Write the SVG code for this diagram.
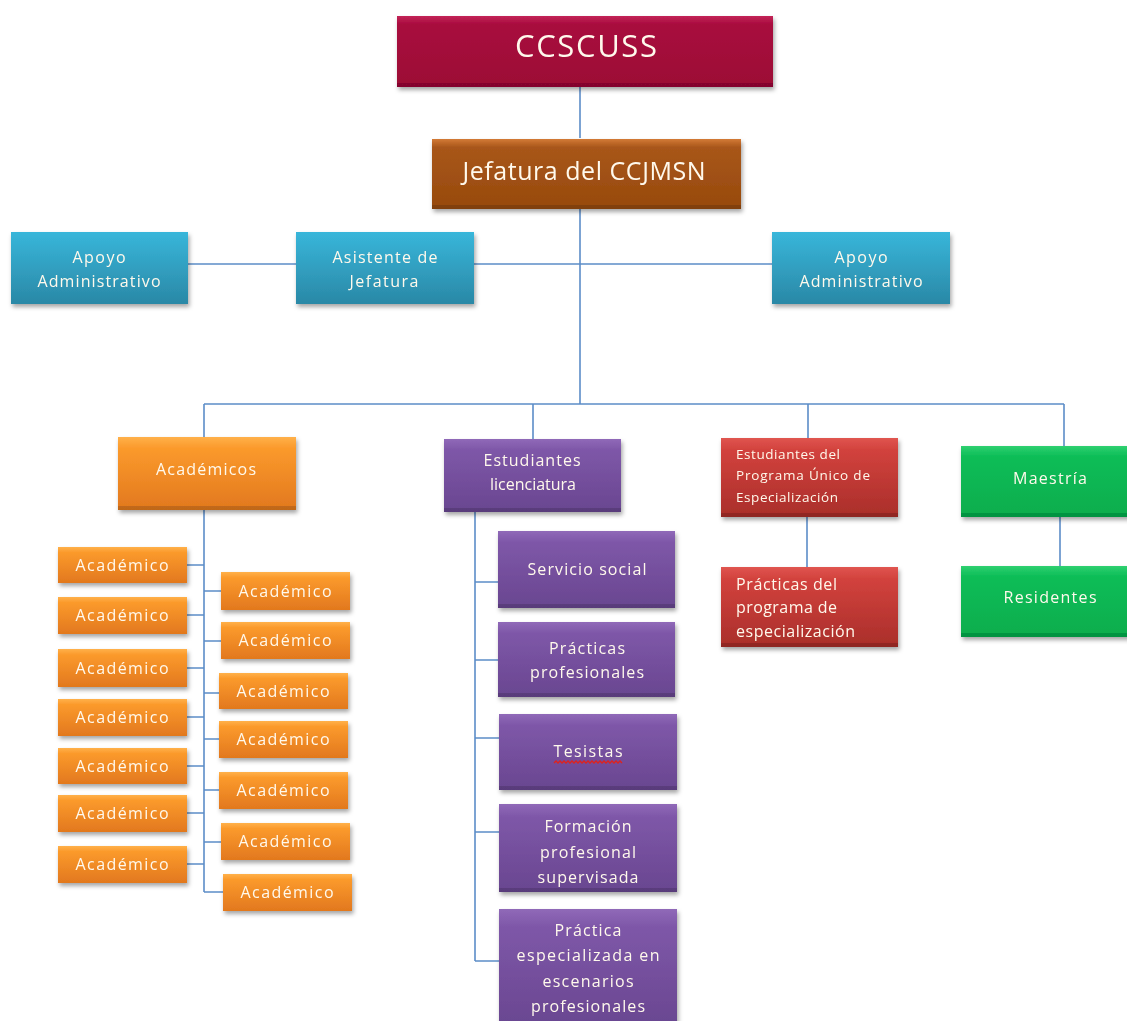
<svg xmlns="http://www.w3.org/2000/svg" width="1127" height="1021" viewBox="0 0 1127 1021">
<defs>
<linearGradient id="gCrim" x1="0" y1="0" x2="0" y2="1"><stop offset="0" stop-color="#C32458"/><stop offset="0.12" stop-color="#A80B3E"/><stop offset="1" stop-color="#9C0835"/></linearGradient>
<linearGradient id="gBrown" x1="0" y1="0" x2="0" y2="1"><stop offset="0" stop-color="#D37A35"/><stop offset="0.12" stop-color="#A8561A"/><stop offset="1" stop-color="#974A0C"/></linearGradient>
<linearGradient id="gBlue" x1="0" y1="0" x2="0" y2="1"><stop offset="0" stop-color="#38B6DA"/><stop offset="1" stop-color="#2A88A6"/></linearGradient>
<linearGradient id="gOrange" x1="0" y1="0" x2="0" y2="1"><stop offset="0" stop-color="#FFB14A"/><stop offset="0.15" stop-color="#FB9A2C"/><stop offset="1" stop-color="#E2781E"/></linearGradient>
<linearGradient id="gPurple" x1="0" y1="0" x2="0" y2="1"><stop offset="0" stop-color="#9069B8"/><stop offset="0.15" stop-color="#7E57A8"/><stop offset="1" stop-color="#694690"/></linearGradient>
<linearGradient id="gRed" x1="0" y1="0" x2="0" y2="1"><stop offset="0" stop-color="#E05550"/><stop offset="0.15" stop-color="#D2423D"/><stop offset="1" stop-color="#A92E2A"/></linearGradient>
<linearGradient id="gGreen" x1="0" y1="0" x2="0" y2="1"><stop offset="0" stop-color="#2FD070"/><stop offset="0.15" stop-color="#0BBD57"/><stop offset="1" stop-color="#07AD4D"/></linearGradient>
<filter id="sh" x="-10%" y="-10%" width="125%" height="135%"><feDropShadow dx="1.5" dy="3" stdDeviation="2" flood-color="#000" flood-opacity="0.35"/></filter>
</defs>
<style>
.conn{fill:none;stroke:#5C8DC8;stroke-width:1.6}
.box{filter:url(#sh)}
.dk{fill:#000;opacity:0.15}
text{font-family:"Open Sans","DejaVu Sans",sans-serif;fill:#FFF9EC;font-weight:500}
.c{text-anchor:middle}
.t15{font-size:16px}
.t13{font-size:13.5px}
</style>
<rect width="1127" height="1021" fill="#fff"/>
<g id="connectors">
<path class="conn" d="M580 87V138M580 209V404M188 264H296M474 264H772M204 404H1064M204 404V437M533 404V439M808 404V438M1064 404V446"/>
<path class="conn" d="M204 510V892M187 565H204M187 615H204M187 668H204M187 717H204M187 766H204M187 813H204M187 864H204M204 591H221M204 641H221M204 693H219M204 739H219M204 790H219M204 842H221M204 892H223"/>
<path class="conn" d="M475 512V961M475 582H498M475 660H498M475 738H499M475 832H499M475 961H499"/>
<path class="conn" d="M807 517V567M1060 517V566"/>
</g>
<g id="n-ccscuss" class="box"><rect x="397" y="16" width="376" height="71" fill="url(#gCrim)"/><rect class="dk" x="397" y="83" width="376" height="4"/><text class="c" x="586" y="57" font-size="31" textLength="142" lengthAdjust="spacing">CCSCUSS</text></g>
<g id="n-jefatura" class="box"><rect x="432" y="139" width="309" height="70" fill="url(#gBrown)"/><rect class="dk" x="432" y="205" width="309" height="4"/><text class="c" x="584" y="180" font-size="25" textLength="243" lengthAdjust="spacing">Jefatura del CCJMSN</text></g>
<g id="n-apoyo1" class="box"><rect x="11" y="232" width="177" height="72" fill="url(#gBlue)"/><text class="c t15" x="99" y="263" textLength="53" lengthAdjust="spacing">Apoyo</text><text class="c t15" x="99" y="287" textLength="123" lengthAdjust="spacing">Administrativo</text></g>
<g id="n-asistente" class="box"><rect x="296" y="232" width="178" height="72" fill="url(#gBlue)"/><text class="c t15" x="385" y="263" textLength="105" lengthAdjust="spacing">Asistente de</text><text class="c t15" x="384" y="287" textLength="69" lengthAdjust="spacing">Jefatura</text></g>
<g id="n-apoyo2" class="box"><rect x="772" y="232" width="178" height="72" fill="url(#gBlue)"/><text class="c t15" x="861" y="263" textLength="53" lengthAdjust="spacing">Apoyo</text><text class="c t15" x="861" y="287" textLength="123" lengthAdjust="spacing">Administrativo</text></g>
<g id="n-academicos" class="box"><rect x="118" y="437" width="178" height="73" fill="url(#gOrange)"/><rect class="dk" x="118" y="506" width="178" height="4"/><text class="c t15" x="206" y="475" textLength="100" lengthAdjust="spacing">Académicos</text></g>
<g id="n-estudiantes" class="box"><rect x="444" y="439" width="177" height="73" fill="url(#gPurple)"/><rect class="dk" x="444" y="508" width="177" height="4"/><text class="c t15" x="532" y="466" textLength="97" lengthAdjust="spacing">Estudiantes</text><text class="c t15" x="533" y="490" textLength="86" lengthAdjust="spacing">licenciatura</text></g>
<g id="n-pue" class="box"><rect x="721" y="438" width="177" height="79" fill="url(#gRed)"/><rect class="dk" x="721" y="513" width="177" height="4"/><text class="t13" x="736" y="459" textLength="104" lengthAdjust="spacing">Estudiantes del</text><text class="t13" x="736" y="480" textLength="134" lengthAdjust="spacing">Programa Único de</text><text class="t13" x="736" y="502" textLength="102" lengthAdjust="spacing">Especialización</text></g>
<g id="n-maestria" class="box"><rect x="961" y="446" width="172" height="71" fill="url(#gGreen)"/><rect class="dk" x="961" y="513" width="172" height="4"/><text class="c t15" x="1050" y="484" textLength="74" lengthAdjust="spacing">Maestría</text></g>
<g id="n-practicas-esp" class="box"><rect x="721" y="567" width="177" height="80" fill="url(#gRed)"/><rect class="dk" x="721" y="643" width="177" height="4"/><text class="t15" x="736" y="590" textLength="101" lengthAdjust="spacing">Prácticas del</text><text class="t15" x="736" y="613" textLength="101" lengthAdjust="spacing">programa de</text><text class="t15" x="736" y="637" textLength="119" lengthAdjust="spacing">especialización</text></g>
<g id="n-residentes" class="box"><rect x="961" y="566" width="172" height="71" fill="url(#gGreen)"/><rect class="dk" x="961" y="633" width="172" height="4"/><text class="c t15" x="1050" y="603" textLength="93" lengthAdjust="spacing">Residentes</text></g>
<g id="n-acad-l1" class="box"><rect x="58" y="547" width="129" height="36" fill="url(#gOrange)"/><text class="c t15" x="122" y="571" textLength="93" lengthAdjust="spacing">Académico</text></g>
<g id="n-acad-l2" class="box"><rect x="58" y="597" width="129" height="37" fill="url(#gOrange)"/><text class="c t15" x="122" y="621" textLength="93" lengthAdjust="spacing">Académico</text></g>
<g id="n-acad-l3" class="box"><rect x="58" y="649" width="129" height="38" fill="url(#gOrange)"/><text class="c t15" x="122" y="674" textLength="93" lengthAdjust="spacing">Académico</text></g>
<g id="n-acad-l4" class="box"><rect x="58" y="699" width="129" height="37" fill="url(#gOrange)"/><text class="c t15" x="122" y="723" textLength="93" lengthAdjust="spacing">Académico</text></g>
<g id="n-acad-l5" class="box"><rect x="58" y="748" width="129" height="36" fill="url(#gOrange)"/><text class="c t15" x="122" y="772" textLength="93" lengthAdjust="spacing">Académico</text></g>
<g id="n-acad-l6" class="box"><rect x="58" y="795" width="129" height="37" fill="url(#gOrange)"/><text class="c t15" x="122" y="819" textLength="93" lengthAdjust="spacing">Académico</text></g>
<g id="n-acad-l7" class="box"><rect x="58" y="846" width="129" height="37" fill="url(#gOrange)"/><text class="c t15" x="122" y="870" textLength="93" lengthAdjust="spacing">Académico</text></g>
<g id="n-acad-r1" class="box"><rect x="221" y="572" width="129" height="38" fill="url(#gOrange)"/><text class="c t15" x="285" y="597" textLength="93" lengthAdjust="spacing">Académico</text></g>
<g id="n-acad-r2" class="box"><rect x="221" y="622" width="129" height="37" fill="url(#gOrange)"/><text class="c t15" x="285" y="646" textLength="93" lengthAdjust="spacing">Académico</text></g>
<g id="n-acad-r3" class="box"><rect x="219" y="673" width="129" height="36" fill="url(#gOrange)"/><text class="c t15" x="283" y="697" textLength="93" lengthAdjust="spacing">Académico</text></g>
<g id="n-acad-r4" class="box"><rect x="219" y="721" width="129" height="37" fill="url(#gOrange)"/><text class="c t15" x="283" y="745" textLength="93" lengthAdjust="spacing">Académico</text></g>
<g id="n-acad-r5" class="box"><rect x="219" y="772" width="129" height="37" fill="url(#gOrange)"/><text class="c t15" x="283" y="796" textLength="93" lengthAdjust="spacing">Académico</text></g>
<g id="n-acad-r6" class="box"><rect x="221" y="823" width="129" height="37" fill="url(#gOrange)"/><text class="c t15" x="285" y="847" textLength="93" lengthAdjust="spacing">Académico</text></g>
<g id="n-acad-r7" class="box"><rect x="223" y="874" width="129" height="37" fill="url(#gOrange)"/><text class="c t15" x="287" y="898" textLength="93" lengthAdjust="spacing">Académico</text></g>
<g id="n-servicio" class="box"><rect x="498" y="531" width="177" height="77" fill="url(#gPurple)"/><rect class="dk" x="498" y="604" width="177" height="4"/><text class="c t15" x="587" y="575" textLength="119" lengthAdjust="spacing">Servicio social</text></g>
<g id="n-practicas-prof" class="box"><rect x="498" y="622" width="177" height="75" fill="url(#gPurple)"/><rect class="dk" x="498" y="693" width="177" height="4"/><text class="c t15" x="587" y="654" textLength="76" lengthAdjust="spacing">Prácticas</text><text class="c t15" x="587" y="678" textLength="114" lengthAdjust="spacing">profesionales</text></g>
<g id="n-tesistas" class="box"><rect x="499" y="714" width="178" height="76" fill="url(#gPurple)"/><rect class="dk" x="499" y="786" width="178" height="4"/><text class="c t15" x="588" y="757" textLength="69" lengthAdjust="spacing">Tesistas</text><path d="M554 763l2 -2 2 2 2 -2 2 2 2 -2 2 2 2 -2 2 2 2 -2 2 2 2 -2 2 2 2 -2 2 2 2 -2 2 2 2 -2 2 2 2 -2 2 2 2 -2 2 2 2 -2 2 2 2 -2 2 2 2 -2 2 2 2 -2 2 2 2 -2 2 2 2 -2 2 2" fill="none" stroke="#E0201C" stroke-width="1.3"/></g>
<g id="n-formacion" class="box"><rect x="499" y="804" width="178" height="88" fill="url(#gPurple)"/><rect class="dk" x="499" y="888" width="178" height="4"/><text class="c t15" x="588" y="832" textLength="87" lengthAdjust="spacing">Formación</text><text class="c t15" x="588" y="858" textLength="96" lengthAdjust="spacing">profesional</text><text class="c t15" x="588" y="883" textLength="101" lengthAdjust="spacing">supervisada</text></g>
<g id="n-practica-esc" class="box"><rect x="499" y="909" width="178" height="120" fill="url(#gPurple)"/><text class="c t15" x="588" y="936" textLength="67" lengthAdjust="spacing">Práctica</text><text class="c t15" x="588" y="961" textLength="143" lengthAdjust="spacing">especializada en</text><text class="c t15" x="588" y="987" textLength="91" lengthAdjust="spacing">escenarios</text><text class="c t15" x="588" y="1012" textLength="114" lengthAdjust="spacing">profesionales</text></g>
</svg>
